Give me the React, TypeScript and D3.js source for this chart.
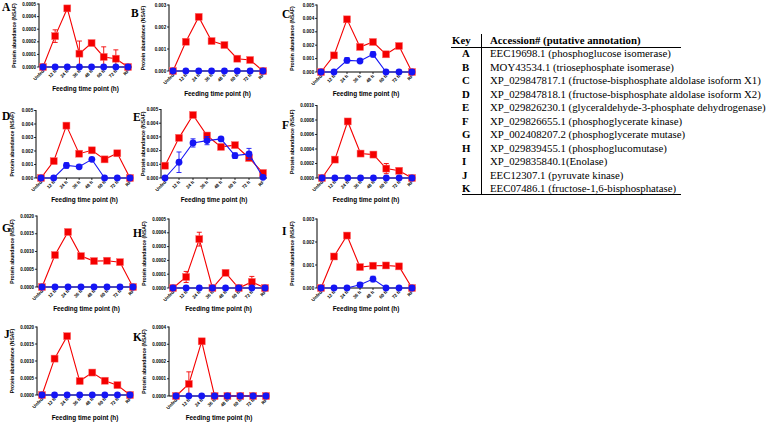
import React from "react";
import * as d3 from "d3";

const timePoints = ["Unfed", "12 h", "24 h", "36 h", "48 h", "60 h", "72 h", "RF"];
const zeros = [0, 0, 0, 0, 0, 0, 0, 0];

const aRed = [0, 0.000245, 0.000465, 0.000106, 0.00019, 0.00008, 0.000066, 0];
const aRedErr = [0, 0.00005, 0.00001, 0.0001, 0.00001, 0.00008, 0.00007, 0];
const aBlue = zeros;
const aBlueErr = zeros;

const bRed = [0, 0.00133, 0.00246, 0.00136, 0.00118, 0.00056, 0.0005, 0];
const bRedErr = [0, 0.00005, 0.00005, 0.0001, 0.00005, 0.00003, 0.00004, 0];
const bBlue = zeros;
const bBlueErr = zeros;

const cRed = [0, 0.00124, 0.00393, 0.00187, 0.00224, 0.00132, 0.00194, 0];
const cRedErr = [0, 0.00003, 0.0001, 0.0001, 0.0001, 0.00005, 0.00005, 0];
const cBlue = [0, 0, 0.00087, 0.00082, 0.00132, 0, 0, 0];
const cBlueErr = [0, 0, 0.0002, 0.0001, 0.0002, 0, 0, 0];

const dRed = [0, 0.00125, 0.00388, 0.0018, 0.00205, 0.00138, 0.00183, 0];
const dRedErr = [0, 0.00003, 0.0001, 0.0001, 0.0001, 0.00005, 0.0001, 0];
const dBlue = [0, 0, 0.00093, 0.00083, 0.00138, 0, 0, 0];
const dBlueErr = [0, 0, 0.0002, 0.0001, 0.0001, 0, 0, 0];

const eRed = [0.0009, 0.00293, 0.0046, 0.0031, 0.00227, 0.0024, 0.00146, 0.00037];
const eRedErr = [0, 0, 0.0001, 0.0001, 0.0001, 0.0001, 0.0001, 0];
const eBlue = [0, 0.00115, 0.00256, 0.00273, 0.00285, 0.00163, 0.00176, 0.00005];
const eBlueErr = [0, 0.00075, 0.0003, 0.0003, 0.0001, 0.0002, 0.0004, 0];

const fRed = [0, 0.000254, 0.00078, 0.000337, 0.000323, 0.00013, 0.0001, 0];
const fRedErr = [0, 0.00001, 0.00001, 0.00001, 0.00002, 0.00007, 0.00003, 0];
const fBlue = zeros;
const fBlueErr = zeros;

const gRed = [0, 0.0009, 0.00155, 0.00087, 0.00073, 0.00074, 0.0007, 0];
const gRedErr = [0, 0.00003, 0.00003, 0.00003, 0.00003, 0.00003, 0.00003, 0];
const gBlue = zeros;
const gBlueErr = zeros;

const hRed = [0, 0.00008, 0.000354, 0, 0.00011, 0, 0.000044, 0];
const hRedErr = [0, 0.00004, 0.00005, 0, 0.00001, 0, 0.00004, 0];
const hBlue = zeros;
const hBlueErr = zeros;

const iRed = [0, 0.00137, 0.00228, 0.00091, 0.00097, 0.00098, 0.00094, 0];
const iRedErr = [0, 0.00003, 0.00003, 0.00003, 0.00003, 0.00003, 0.00003, 0];
const iBlue = [0, 0, 0, 0.00014, 0.00039, 0, 0, 0];
const iBlueErr = [0, 0, 0, 0.0001, 0.00012, 0, 0, 0];

const jRed = [0, 0.00107, 0.00173, 0.00041, 0.00066, 0.00042, 0.00029, 0];
const jRedErr = [0, 0.00003, 0.00003, 0.00003, 0.00003, 0.00003, 0.00003, 0];
const jBlue = zeros;
const jBlueErr = zeros;

const kRed = [0, 0.00007, 0.000317, 0, 0, 0, 0, 0];
const kRedErr = [0, 0.00007, 0.00001, 0, 0, 0, 0, 0];
const kBlue = zeros;
const kBlueErr = zeros;

const panelLabels = ["A", "B", "C", "D", "E", "F", "G", "H", "I", "J", "K"];
const yMaxes = [0.0005, 0.003, 0.005, 0.005, 0.005, 0.001, 0.002, 0.0005, 0.003, 0.002, 0.0004];
const ySteps = [0.0001, 0.001, 0.001, 0.001, 0.001, 0.0002, 0.0005, 0.0001, 0.001, 0.0005, 0.0001];
const yDecimals = [4, 3, 3, 3, 3, 4, 4, 4, 3, 4, 4];
const redSeries = [aRed, bRed, cRed, dRed, eRed, fRed, gRed, hRed, iRed, jRed, kRed];
const redErrors = [aRedErr, bRedErr, cRedErr, dRedErr, eRedErr, fRedErr, gRedErr, hRedErr, iRedErr, jRedErr, kRedErr];
const blueSeries = [aBlue, bBlue, cBlue, dBlue, eBlue, fBlue, gBlue, hBlue, iBlue, jBlue, kBlue];
const blueErrors = [aBlueErr, bBlueErr, cBlueErr, dBlueErr, eBlueErr, fBlueErr, gBlueErr, hBlueErr, iBlueErr, jBlueErr, kBlueErr];

const tableHeaderKey = "Key";
const tableHeaderText = "Accession# (putative annotation)";
const tableKeys = ["A", "B", "C", "D", "E", "F", "G", "H", "I", "J", "K"];
const tableAccessions = [
  "EEC19698.1 (phosphoglucose isomerase)",
  "MOY43534.1 (triosephosphate isomerase)",
  "XP_029847817.1 (fructose-bisphosphate aldolase isoform X1)",
  "XP_029847818.1 (fructose-bisphosphate aldolase isoform X2)",
  "XP_029826230.1 (glyceraldehyde-3-phosphate dehydrogenase)",
  "XP_029826655.1 (phosphoglycerate kinase)",
  "XP_002408207.2 (phosphoglycerate mutase)",
  "XP_029839455.1 (phosphoglucomutase)",
  "XP_029835840.1(Enolase)",
  "EEC12307.1 (pyruvate kinase)",
  "EEC07486.1 (fructose-1,6-bisphosphatase)",
];

// layout (pixel positions), separate from data
const layouts = [
  { lx: 2, ly: 11, axisX: 39, titleOff: 23, p0: 43, p7: 128, xEnd: 132, yTop: 4, yZero: 67, titleY: 91 },
  { lx: 131, ly: 17, axisX: 169, titleOff: 24, p0: 173, p7: 263, xEnd: 266, yTop: 5, yZero: 71, titleY: 96 },
  { lx: 282, ly: 18, axisX: 317, titleOff: 23, p0: 321, p7: 412, xEnd: 415, yTop: 5, yZero: 72, titleY: 96 },
  { lx: 2, ly: 120, axisX: 36, titleOff: 22, p0: 41, p7: 130, xEnd: 133, yTop: 110.5, yZero: 178, titleY: 202 },
  { lx: 133, ly: 121, axisX: 161, titleOff: 16, p0: 165, p7: 263, xEnd: 267, yTop: 109.5, yZero: 178, titleY: 202 },
  { lx: 282, ly: 129, axisX: 317, titleOff: 23, p0: 322, p7: 412, xEnd: 415, yTop: 105.5, yZero: 178, titleY: 202 },
  { lx: 2, ly: 232, axisX: 37, titleOff: 23, p0: 42, p7: 133, xEnd: 136, yTop: 216, yZero: 287, titleY: 311 },
  { lx: 133, ly: 237, axisX: 169, titleOff: 23, p0: 173, p7: 265, xEnd: 268, yTop: 219, yZero: 288, titleY: 311 },
  { lx: 282, ly: 235, axisX: 317, titleOff: 23, p0: 321, p7: 412, xEnd: 415, yTop: 219, yZero: 288, titleY: 311 },
  { lx: 4, ly: 338, axisX: 37, titleOff: 23, p0: 42, p7: 130, xEnd: 133, yTop: 327, yZero: 395, titleY: 420 },
  { lx: 133, ly: 341, axisX: 169, titleOff: 23, p0: 176, p7: 266, xEnd: 269, yTop: 327, yZero: 396, titleY: 420 },
];

const RED = "#F40000";
const BLUE = "#1515F5";
const SANS = "'Liberation Sans', Arial, sans-serif";
const SERIF = "'Liberation Serif', 'Times New Roman', serif";

function Series({ values, errors, x, y, color, shape }: any) {
  const line = d3
    .line<number>()
    .x((_, i) => x(timePoints[i]) as number)
    .y((d) => y(d));
  return (
    <g>
      <path d={line(values) || ""} fill="none" stroke={color} strokeWidth={1.1} />
      {values.map((v: number, i: number) => {
        const e = errors[i];
        if (!e) return null;
        const cx = x(timePoints[i]) as number;
        return (
          <g key={"e" + i} stroke={color} strokeWidth={0.9}>
            <line x1={cx} x2={cx} y1={y(v - e)} y2={y(v + e)} />
            <line x1={cx - 2.5} x2={cx + 2.5} y1={y(v + e)} y2={y(v + e)} />
            <line x1={cx - 2.5} x2={cx + 2.5} y1={y(v - e)} y2={y(v - e)} />
          </g>
        );
      })}
      {values.map((v: number, i: number) => {
        const cx = x(timePoints[i]) as number;
        const cy = y(v);
        return shape === "square" ? (
          <rect key={"m" + i} x={cx - 3.5} y={cy - 3.5} width={7} height={7} fill={color} stroke="#ff6a6a" strokeWidth={0.5} />
        ) : (
          <circle key={"m" + i} cx={cx} cy={cy} r={3.4} fill={color} />
        );
      })}
    </g>
  );
}

function Panel({ idx }: { idx: number }) {
  const L = layouts[idx];
  const yMax = yMaxes[idx];
  const step = ySteps[idx];
  const y = d3.scaleLinear().domain([0, yMax]).range([L.yZero, L.yTop]);
  const x = d3.scalePoint<string>().domain(timePoints).range([L.p0, L.p7]);
  const ticks = d3.range(0, yMax + step / 2, step);
  const fmt = d3.format("." + yDecimals[idx] + "f");
  const midY = (L.yTop + L.yZero) / 2;
  return (
    <g>
      <text x={L.lx} y={L.ly} fontFamily={SERIF} fontWeight="bold" fontSize={11.5} fill="#000">
        {panelLabels[idx]}
      </text>
      <line x1={L.axisX} x2={L.axisX} y1={L.yTop - 0.5} y2={L.yZero} stroke="#000" strokeWidth={1} />
      {ticks.map((t, i) => (
        <g key={i}>
          <line x1={L.axisX - 2} x2={L.axisX} y1={y(t)} y2={y(t)} stroke="#000" strokeWidth={0.8} />
          <text x={L.axisX - 2.8} y={y(t) + 1.6} textAnchor="end" fontFamily={SANS} fontWeight="bold" fontSize={4.6} fill="#000">
            {fmt(t)}
          </text>
        </g>
      ))}
      <text
        transform={`translate(${L.axisX - L.titleOff},${midY}) rotate(-90)`}
        textAnchor="middle"
        fontFamily={SANS}
        fontWeight="bold"
        fontSize={5.1}
        fill="#000"
      >
        Protein abundance (NSAF)
      </text>
      <line x1={L.axisX} x2={L.xEnd} y1={L.yZero} y2={L.yZero} stroke="#000" strokeWidth={1} />
      {timePoints.map((tp) => {
        const px = x(tp) as number;
        return (
          <g key={tp}>
            <line x1={px} x2={px} y1={L.yZero} y2={L.yZero + 2} stroke="#000" strokeWidth={0.8} />
            <text
              transform={`translate(${px + 1.5},${L.yZero + 4.5}) rotate(-45)`}
              textAnchor="end"
              fontFamily={SANS}
              fontWeight="bold"
              fontSize={4.6}
              fill="#000"
            >
              {tp}
            </text>
          </g>
        );
      })}
      <text x={(L.axisX + L.xEnd) / 2} y={L.titleY} textAnchor="middle" fontFamily={SANS} fontWeight="bold" fontSize={6.4} fill="#000">
        Feeding time point (h)
      </text>
      <Series values={redSeries[idx]} errors={redErrors[idx]} x={x} y={y} color={RED} shape="square" />
      <Series values={blueSeries[idx]} errors={blueErrors[idx]} x={x} y={y} color={BLUE} shape="circle" />
    </g>
  );
}

function KeyTable() {
  const keyX = 456;
  const lineX = 481.5;
  const textX = 490;
  const headerY = 44;
  const row0 = 57;
  const rowH = 13.5;
  const fs = 10.8;
  const lastY = row0 + (tableKeys.length - 1) * rowH;
  return (
    <g fontFamily={SERIF} fontSize={fs} fill="#000">
      <text x={keyX - 4} y={headerY} fontWeight="bold">{tableHeaderKey}</text>
      <text x={textX} y={headerY} fontWeight="bold">{tableHeaderText}</text>
      <line x1={451} x2={681} y1={headerY + 3.5} y2={headerY + 3.5} stroke="#000" strokeWidth={1} />
      <line x1={lineX} x2={lineX} y1={headerY - 10} y2={lastY + 3} stroke="#000" strokeWidth={1} />
      {tableKeys.map((k, i) => (
        <g key={k}>
          <text x={keyX + 6} y={row0 + i * rowH} fontWeight="bold">{k}</text>
          <text x={textX} y={row0 + i * rowH}>{tableAccessions[i]}</text>
        </g>
      ))}
      <line x1={462} x2={681} y1={lastY + 2.5} y2={lastY + 2.5} stroke="#000" strokeWidth={1.2} />
    </g>
  );
}

export default function App() {
  return (
    <svg
      width={778}
      height={423}
      viewBox="0 0 778 423"
      style={{ position: "absolute", left: 0, top: 0, background: "#fff" }}
    >
      <rect x={0} y={0} width={778} height={423} fill="#fff" />
      {layouts.map((_, i) => (
        <Panel key={i} idx={i} />
      ))}
      <KeyTable />
    </svg>
  );
}
